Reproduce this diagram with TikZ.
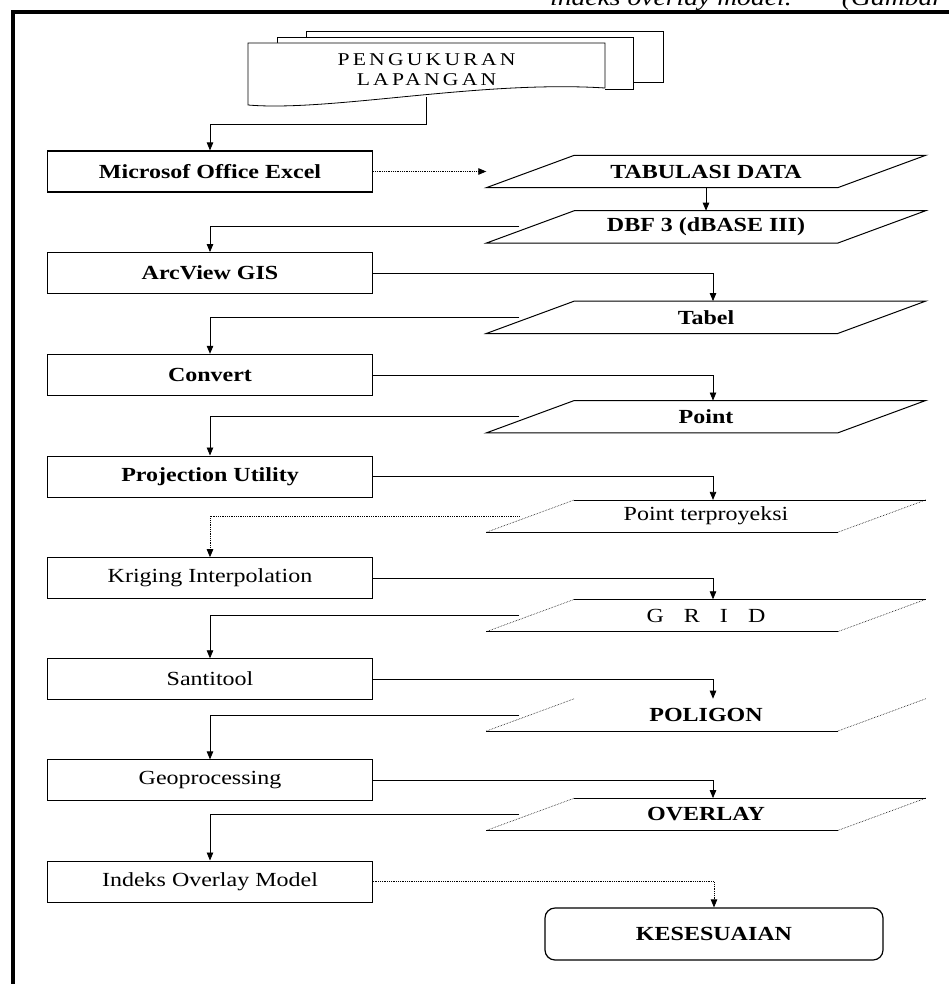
\documentclass[tikz,border=0pt]{standalone}
\usepackage{fontspec}
\setmainfont{Liberation Serif}[FakeStretch=1.2]
\usetikzlibrary{arrows.meta,positioning,calc}

\begin{document}
\begin{tikzpicture}[x=1pt, y=1pt,
  box/.style={draw, line width=1.2pt, minimum width=325pt, minimum height=41pt, inner sep=0pt,
    font=\fontsize{20}{24}\selectfont\bfseries},
  boxlite/.style={box, line width=0.6pt, font=\fontsize{20}{24}\selectfont},
  data/.style={minimum width=439pt, minimum height=32pt, inner sep=0pt,
    font=\fontsize{20}{24}\selectfont\bfseries},
  datalite/.style={data, font=\fontsize{20}{24}\selectfont},
  endbox/.style={draw, line width=1.2pt, rounded corners=10pt, minimum width=338pt, minimum height=52pt,
    font=\fontsize{20}{24}\selectfont\bfseries},
  docnode/.style={minimum width=357pt, minimum height=54pt, inner sep=0pt, align=center,
    font=\fontsize{18}{20}\selectfont\addfontfeature{LetterSpace=18}},
  arr/.style={-{Triangle[length=8pt, width=6.5pt]}, line width=0.8pt},
  node distance=59.5pt,
]
\useasboundingbox (0,0) rectangle (949,-984);

% caption cut off at the top
\begin{scope}
  \clip (0,0) rectangle (949,-984);
  \node[anchor=base west, inner sep=0pt, font=\fontsize{23}{26}\selectfont\itshape] (cap) at (550,-6)
    {indeks overlay model.''\hspace{35pt}(Gambar};
\end{scope}

% frame
\draw[line width=4pt] (13,-984) -- (13,-12) -- (949,-12);

% stacked documents
\draw[line width=0.8pt] (306,-37) -- (306,-31) -- (663,-31) -- (663,-82) -- (633,-82);
\draw[line width=0.8pt] (277,-43) -- (277,-37) -- (633,-37) -- (633,-89) -- (605,-89);
\draw[line width=0.8pt, fill=white] (248,-43) -- (605,-43) -- (605,-88)
  .. controls (480,-80) and (330,-112) .. (248,-105) -- cycle;
\node[docnode] (doc) at (426.5,-70) {PENGUKURAN\\LAPANGAN};

% process boxes
\node[box] (excel) at (210,-171.5) {Microsof Office Excel};
\node[box, below=of excel] (arcview) {ArcView GIS};
\node[box, below=of arcview] (convert) {Convert};
\node[box, below=of convert] (proj) {Projection Utility};
\node[boxlite, below=of proj] (krig) {Kriging Interpolation};
\node[boxlite, below=of krig] (santi) {Santitool};
\node[boxlite, below=of santi] (geo) {Geoprocessing};
\node[boxlite, below=of geo] (indeks) {Indeks Overlay Model};

% data
\node[data] (tab) at (706,-171.5) {TABULASI DATA};
\node[data, below=23pt of tab] (dbf) {DBF 3 (dBASE III)};
\node[data, below=58pt of dbf] (tabel) {Tabel};
\node[data, below=67pt of tabel] (point) {Point};
\node[datalite, below=67pt of point] (ptproj) {Point terproyeksi};
\node[datalite, below=67pt of ptproj] (grid) {G\hspace{20pt}R\hspace{20pt}I\hspace{20pt}D};
\node[data, below=67pt of grid] (poligon) {POLIGON};
\node[data, below=67pt of poligon] (overlay) {OVERLAY};
\node[endbox] (kes) at (714,-934) {KESESUAIAN};

\foreach \n in {tab,dbf,tabel,point}
  \draw[line width=1pt] ([xshift=88pt]\n.north west) -- (\n.north east)
    -- ([xshift=-88pt]\n.south east) -- (\n.south west) -- cycle;
\foreach \n in {ptproj,grid,overlay}{
  \draw[line width=0.8pt] ([xshift=88pt]\n.north west) -- (\n.north east)
    ([xshift=-88pt]\n.south east) -- (\n.south west);
  \draw[line width=0.6pt, densely dotted] (\n.south west) -- ([xshift=88pt]\n.north west)
    (\n.north east) -- ([xshift=-88pt]\n.south east);
}
\draw[line width=0.8pt] ([xshift=-88pt]poligon.south east) -- (poligon.south west);
\draw[line width=0.6pt, densely dotted] (poligon.south west) -- ([xshift=88pt]poligon.north west)
  (poligon.north east) -- ([xshift=-88pt]poligon.south east);

% connectors
\draw[arr] (doc.south) -- ++(0,-27) -| (excel.north);
\draw[arr, densely dotted] (excel.east) -- (tab.west);
\draw[arr] (tab) -- (dbf);
\draw[arr] ([xshift=33pt]dbf.west) -| (arcview.north);
\draw[arr] (arcview.east) -| ([xshift=7pt]tabel.north);
\draw[arr] ([xshift=33pt]tabel.west) -| (convert.north);
\draw[arr] (convert.east) -| ([xshift=7pt]point.north);
\draw[arr] ([xshift=33pt]point.west) -| (proj.north);
\draw[arr] (proj.east) -| ([xshift=7pt]ptproj.north);
\draw[arr, densely dotted] ([xshift=33pt]ptproj.west) -| (krig.north);
\draw[arr] (krig.east) -| ([xshift=7pt]grid.north);
\draw[arr] ([xshift=33pt]grid.west) -| (santi.north);
\draw[arr] (santi.east) -| ([xshift=7pt]poligon.north);
\draw[arr] ([xshift=33pt]poligon.west) -| (geo.north);
\draw[arr] (geo.east) -| ([xshift=7pt]overlay.north);
\draw[arr] ([xshift=33pt]overlay.west) -| (indeks.north);
\draw[arr, densely dotted] (indeks.east) -| (kes.north);

\end{tikzpicture}
\end{document}
